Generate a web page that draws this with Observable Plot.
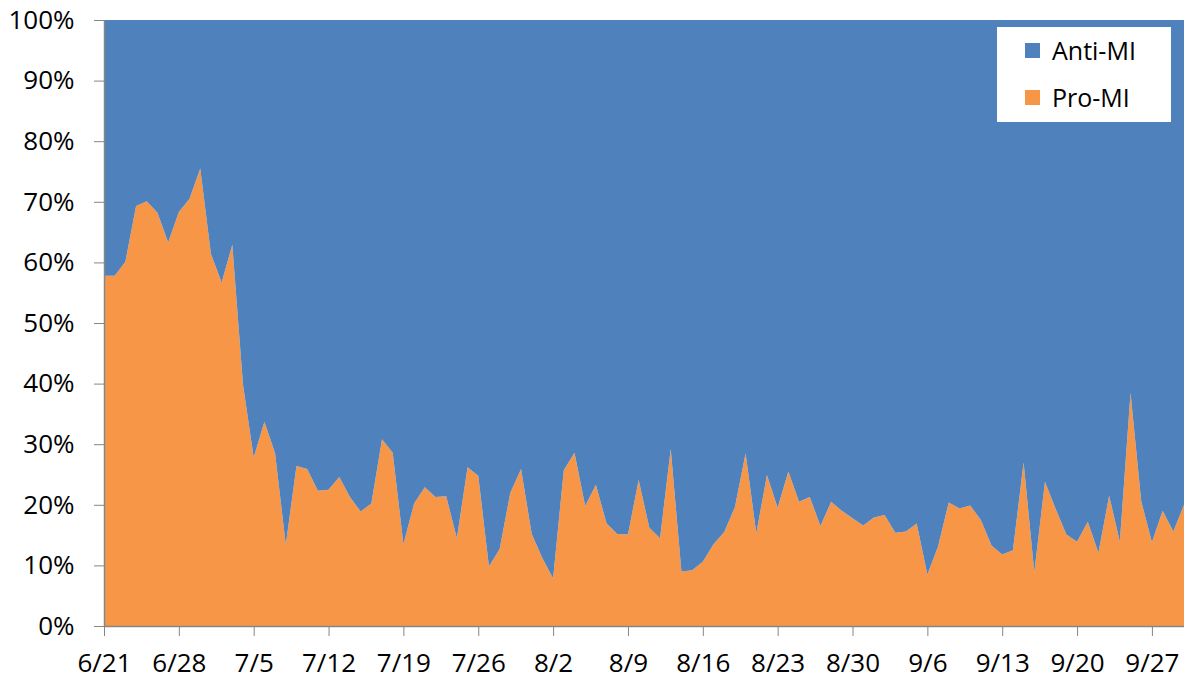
<!DOCTYPE html>
<html>
<head>
<meta charset="utf-8">
<script src="https://cdn.jsdelivr.net/npm/d3@7"></script>
<script src="https://cdn.jsdelivr.net/npm/@observablehq/plot@0.6"></script>
<style>
  body { margin: 0; background: #fff; font-family: "Open Sans", Lato, sans-serif; }
  #wrap { position: relative; width: 1198px; height: 686px; }
  #legend { position: absolute; left: 997px; top: 27px; width: 174px; height: 95px; background: #fff; font-size: 25px; color: #000; }
  .item { position: absolute; left: 28px; display: flex; align-items: center; }
  .sw { width: 15px; height: 15px; margin-right: 12px; }
</style>
</head>
<body>
<div id="wrap">
  <div id="chart"></div>
  <div id="legend">
    <div class="item" style="top:6px"><div class="sw" style="background:#4F81BD"></div><span>Anti-MI</span></div>
    <div class="item" style="top:53px"><div class="sw" style="background:#F79646"></div><span>Pro-MI</span></div>
  </div>
</div>
<script>
// Daily share of Pro-MI (percent), 6/21 through 9/30
const startDate = "2010-06-21";
const proMI = [
  57.8, 57.8, 60.1, 69.3, 70.1, 68.2, 63.3, 68.3, 70.5, 75.5,
  61.4, 56.7, 62.9, 39.8, 27.8, 33.7, 28.5, 13.4, 26.4, 25.9,
  22.3, 22.5, 24.6, 21.3, 18.9, 20.2, 30.8, 28.6, 13.5, 20.2,
  22.9, 21.3, 21.4, 14.5, 26.2, 24.8, 9.8, 12.7, 22.0, 25.9,
  15.2, 11.2, 7.9, 25.7, 28.6, 19.8, 23.3, 16.9, 15.2, 15.1,
  24.1, 16.2, 14.5, 29.2, 9.0, 9.2, 10.6, 13.5, 15.5, 19.6,
  28.5, 15.3, 24.9, 19.5, 25.5, 20.5, 21.3, 16.5, 20.5, 19.0,
  17.8, 16.6, 17.9, 18.3, 15.4, 15.6, 16.9, 8.5, 13.1, 20.4,
  19.4, 19.9, 17.5, 13.3, 11.8, 12.5, 27.0, 8.9, 23.8, 19.3,
  15.1, 13.9, 17.2, 12.1, 21.5, 13.9, 38.5, 20.6, 13.8, 19.0,
  15.6, 20.0
];
const seriesNames = ["Pro-MI", "Anti-MI"];
const seriesColors = ["#F79646", "#4F81BD"];
const yTicks = [0, 0.1, 0.2, 0.3, 0.4, 0.5, 0.6, 0.7, 0.8, 0.9, 1.0];

const t0 = new Date(startDate + "T00:00:00Z");
const dayMs = 86400000;
const dates = proMI.map((_, i) => new Date(t0.getTime() + i * dayMs));
const xTicks = d3.range(0, proMI.length, 7).map(i => dates[i]);

const rows = [];
proMI.forEach((v, i) => {
  rows.push({date: dates[i], series: seriesNames[0], value: v / 100});
  rows.push({date: dates[i], series: seriesNames[1], value: 1 - v / 100});
});

const chart = Plot.plot({
  width: 1198,
  height: 686,
  marginLeft: 104,
  marginRight: 14,
  marginTop: 20,
  marginBottom: 60,
  style: {fontFamily: "'Open Sans', Lato, sans-serif", fontSize: "26px", color: "#000", background: "#fff"},
  x: {type: "utc", domain: [dates[0], dates[dates.length - 1]], label: null},
  y: {domain: [0, 1], label: null},
  color: {domain: seriesNames, range: seriesColors},
  marks: [
    Plot.areaY(rows, Plot.stackY({x: "date", y: "value", fill: "series", order: seriesNames})),
    Plot.axisY({ticks: yTicks, tickFormat: d3.format(".0%"), tickSize: 10, tickPadding: 20, stroke: "#868686", label: null, fontSize: 26}),
    Plot.axisX({ticks: xTicks, tickFormat: d3.utcFormat("%-m/%-d"), tickSize: 10, tickPadding: 17, stroke: "#868686", label: null, fontSize: 26}),
    Plot.ruleX([dates[0]], {stroke: "#868686", strokeWidth: 1.5}),
    Plot.ruleY([0], {stroke: "#868686", strokeWidth: 1.5})
  ]
});
document.getElementById("chart").appendChild(chart);
</script>
</body>
</html>
